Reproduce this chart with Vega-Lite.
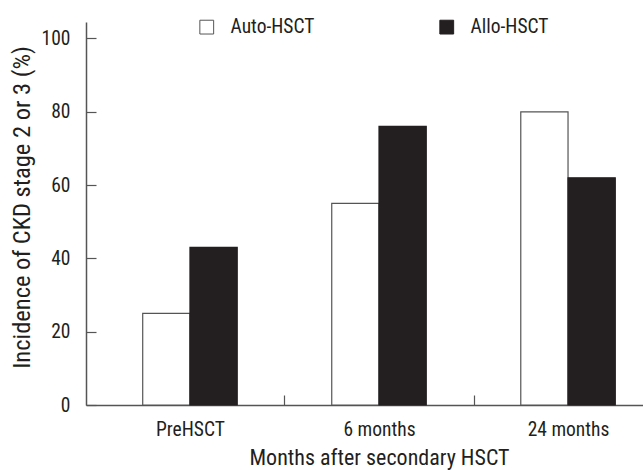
{
  "$schema": "https://vega.github.io/schema/vega-lite/v6.json",
  "width": 586,
  "height": 383,
  "autosize": {"type": "none"},
  "padding": {"left": 86, "top": 22, "right": 0, "bottom": 65},
  "background": "white",
  "config": {
    "font": "Roboto Condensed, Liberation Sans Narrow, Roboto, sans-serif",
    "view": {"stroke": null},
    "axis": {"grid": false, "domainColor": "#555", "domainWidth": 1.5, "tickColor": "#555", "tickWidth": 1.2, "labelColor": "#231f20", "titleColor": "#231f20", "labelFontWeight": "normal", "titleFontWeight": "normal"}
  },
  "data": {
    "values": [
      {"time": "PreHSCT", "group": "Auto-HSCT", "value": 25},
      {"time": "PreHSCT", "group": "Allo-HSCT", "value": 43},
      {"time": "6 months", "group": "Auto-HSCT", "value": 55},
      {"time": "6 months", "group": "Allo-HSCT", "value": 76},
      {"time": "24 months", "group": "Auto-HSCT", "value": 80},
      {"time": "24 months", "group": "Allo-HSCT", "value": 62}
    ]
  },
  "mark": {"type": "bar", "strokeWidth": 1.2},
  "encoding": {
    "x": {
      "field": "time", "type": "nominal", "sort": ["PreHSCT", "6 months", "24 months"],
      "scale": {"paddingInner": 0, "paddingOuter": 0.05},
      "axis": {"title": "Months after secondary HSCT", "titleFontSize": 22, "titleBaseline": "alphabetic", "titleY": 59, "labelAngle": 0, "labelFontSize": 19.5, "tickSize": -10, "labelPadding": 25, "tickOffset": 94.5, "labelOffset": -94.5}
    },
    "xOffset": {"field": "group", "type": "nominal", "sort": ["Auto-HSCT", "Allo-HSCT"], "scale": {"paddingInner": 0, "paddingOuter": 1.12}},
    "y": {
      "field": "value", "type": "quantitative",
      "scale": {"domain": [0, 104.5], "nice": false},
      "axis": {"title": "Incidence of CKD stage 2 or 3 (%)", "values": [0, 20, 40, 60, 80, 100], "titleFontSize": 24.5, "titleX": -64, "titleY": 185, "titleBaseline": "middle", "labelFontSize": 19.5, "tickSize": -10, "labelPadding": 26}
    },
    "fill": {
      "field": "group", "type": "nominal",
      "scale": {"domain": ["Auto-HSCT", "Allo-HSCT"], "range": ["white", "#231f20"]},
      "legend": {"title": null, "orient": "none", "legendX": 111, "legendY": -5, "direction": "horizontal", "symbolType": "square", "symbolSize": 190, "symbolStrokeWidth": 1, "labelFontSize": 19.5, "labelColor": "#231f20", "labelOffset": 14, "columnPadding": 122}
    },
    "stroke": {
      "field": "group", "type": "nominal",
      "scale": {"domain": ["Auto-HSCT", "Allo-HSCT"], "range": ["#555", "#231f20"]},
      "legend": null
    }
  }
}
